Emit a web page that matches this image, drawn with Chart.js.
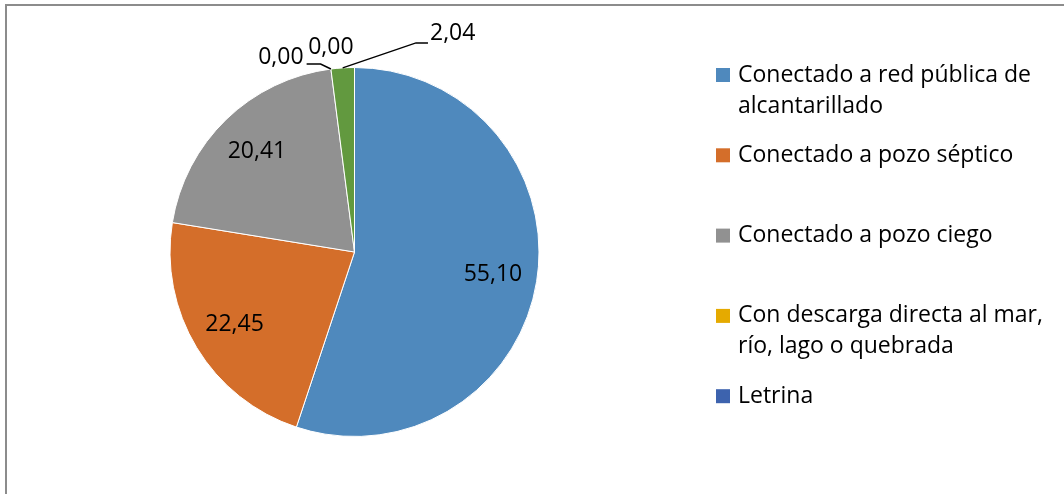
<!DOCTYPE html>
<html>
<head>
<meta charset="utf-8">
<script src="https://cdn.jsdelivr.net/npm/chart.js@4.4.1/dist/chart.umd.min.js"></script>
<style>
html, body { margin: 0; padding: 0; background: #fff; }
#wrap { width: 1064px; height: 494px; }
</style>
</head>
<body>
<div id="wrap"><canvas id="canvas" width="1064" height="494"></canvas></div>
<script>
const categorias = [
    "Conectado a red pública de alcantarillado",
    "Conectado a pozo séptico",
    "Conectado a pozo ciego",
    "Con descarga directa al mar, río, lago o quebrada",
    "Letrina",
    "No tiene"
];
const porcentajes = [55.10, 22.45, 20.41, 0.00, 0.00, 2.04];
const colores = ["#4f89bd", "#d46e2a", "#919191", "#e5aa00", "#3d63ae", "#62993f"];
// en el original la leyenda se corta y solo se ven las 5 primeras
const itemsLeyenda = 5;

const fuente = '"Open Sans", "DejaVu Sans", sans-serif';

// etiquetas de las porciones pequeñas: desplazamiento desde el borde del pastel
const llamadas = {
    3: {dx: -50, dy: -12, lado: "izq"},
    4: {dx: 0, dy: -22},
    5: {dx: 110, dy: -34, lado: "der"}
};

function formato(v){
    return v.toFixed(2).replace(".", ",");
}

function partirTexto(ctx, texto, maxAncho){
    let palabras = texto.split(" ");
    let lineas = [];
    let actual = "";
    for (let p of palabras){
        let prueba = actual ? actual + " " + p : p;
        if (ctx.measureText(prueba).width > maxAncho && actual){
            lineas.push(actual);
            actual = p;
        } else {
            actual = prueba;
        }
    }
    if (actual) lineas.push(actual);
    return lineas;
}

const marcoPlugin = {
    id: "marco",
    beforeDraw(chart){
        const ctx = chart.ctx;
        ctx.save();
        ctx.strokeStyle = "#8c8c8c";
        ctx.lineWidth = 2;
        ctx.beginPath();
        ctx.moveTo(6, 494);
        ctx.lineTo(6, 5);
        ctx.lineTo(1064, 5);
        ctx.stroke();
        ctx.restore();
    }
};

const etiquetasPlugin = {
    id: "etiquetas",
    afterDatasetsDraw(chart){
        const ctx = chart.ctx;
        const meta = chart.getDatasetMeta(0);
        ctx.save();
        ctx.font = "23px " + fuente;
        ctx.fillStyle = "#000";
        ctx.strokeStyle = "#000";
        ctx.lineWidth = 1.5;
        ctx.textAlign = "center";
        ctx.textBaseline = "middle";
        meta.data.forEach((arc, i) => {
            const p = arc.getProps(["x", "y", "startAngle", "endAngle", "outerRadius"], true);
            const medio = (p.startAngle + p.endAngle) / 2;
            const texto = formato(porcentajes[i]);
            const ll = llamadas[i];
            if (!ll){
                const r = p.outerRadius * 0.76;
                ctx.fillText(texto, p.x + Math.cos(medio) * r, p.y + Math.sin(medio) * r);
                return;
            }
            const bx = p.x + Math.cos(medio) * p.outerRadius;
            const by = p.y + Math.sin(medio) * p.outerRadius;
            const tx = bx + ll.dx, ty = by + ll.dy;
            const w = ctx.measureText(texto).width;
            if (ll.lado === "der"){
                const ex = tx - w / 2 - 2, ey = ty + 9;
                ctx.beginPath();
                ctx.moveTo(bx, by);
                ctx.lineTo(ex - 12, ey);
                ctx.lineTo(ex, ey);
                ctx.stroke();
            } else if (ll.lado === "izq"){
                const ex = tx + w / 2 + 3, ey = ty + 7;
                ctx.beginPath();
                ctx.moveTo(bx, by);
                ctx.lineTo(ex + 14, ey);
                ctx.lineTo(ex, ey);
                ctx.stroke();
            }
            ctx.fillText(texto, tx, ty);
        });
        ctx.restore();
    }
};

const leyendaPlugin = {
    id: "leyenda",
    afterDraw(chart){
        const ctx = chart.ctx;
        const x0 = 716, yPrimera = 75, paso = 80.3, alto = 31;
        ctx.save();
        ctx.font = "23px " + fuente;
        ctx.textAlign = "left";
        ctx.textBaseline = "middle";
        for (let i = 0; i < itemsLeyenda; i++){
            const y = yPrimera + i * paso;
            ctx.fillStyle = colores[i];
            ctx.fillRect(x0, y - 7, 14, 14);
            ctx.fillStyle = "#000";
            const lineas = partirTexto(ctx, categorias[i], 310);
            lineas.forEach((l, k) => ctx.fillText(l, x0 + 22, y + k * alto));
        }
        ctx.restore();
    }
};

let canvas = document.getElementById("canvas").getContext("2d");
let chart = new Chart(canvas, {
    type: "pie",
    data: {
        labels: categorias,
        datasets: [{
            data: porcentajes,
            backgroundColor: colores,
            borderColor: "#ffffff",
            borderWidth: 1,
            hoverOffset: 0
        }]
    },
    options: {
        responsive: false,
        animation: false,
        layout: {padding: {left: 169, right: 524, top: 67, bottom: 57}},
        plugins: {
            legend: {display: false},
            tooltip: {enabled: false}
        }
    },
    plugins: [marcoPlugin, etiquetasPlugin, leyendaPlugin]
});
</script>
</body>
</html>
